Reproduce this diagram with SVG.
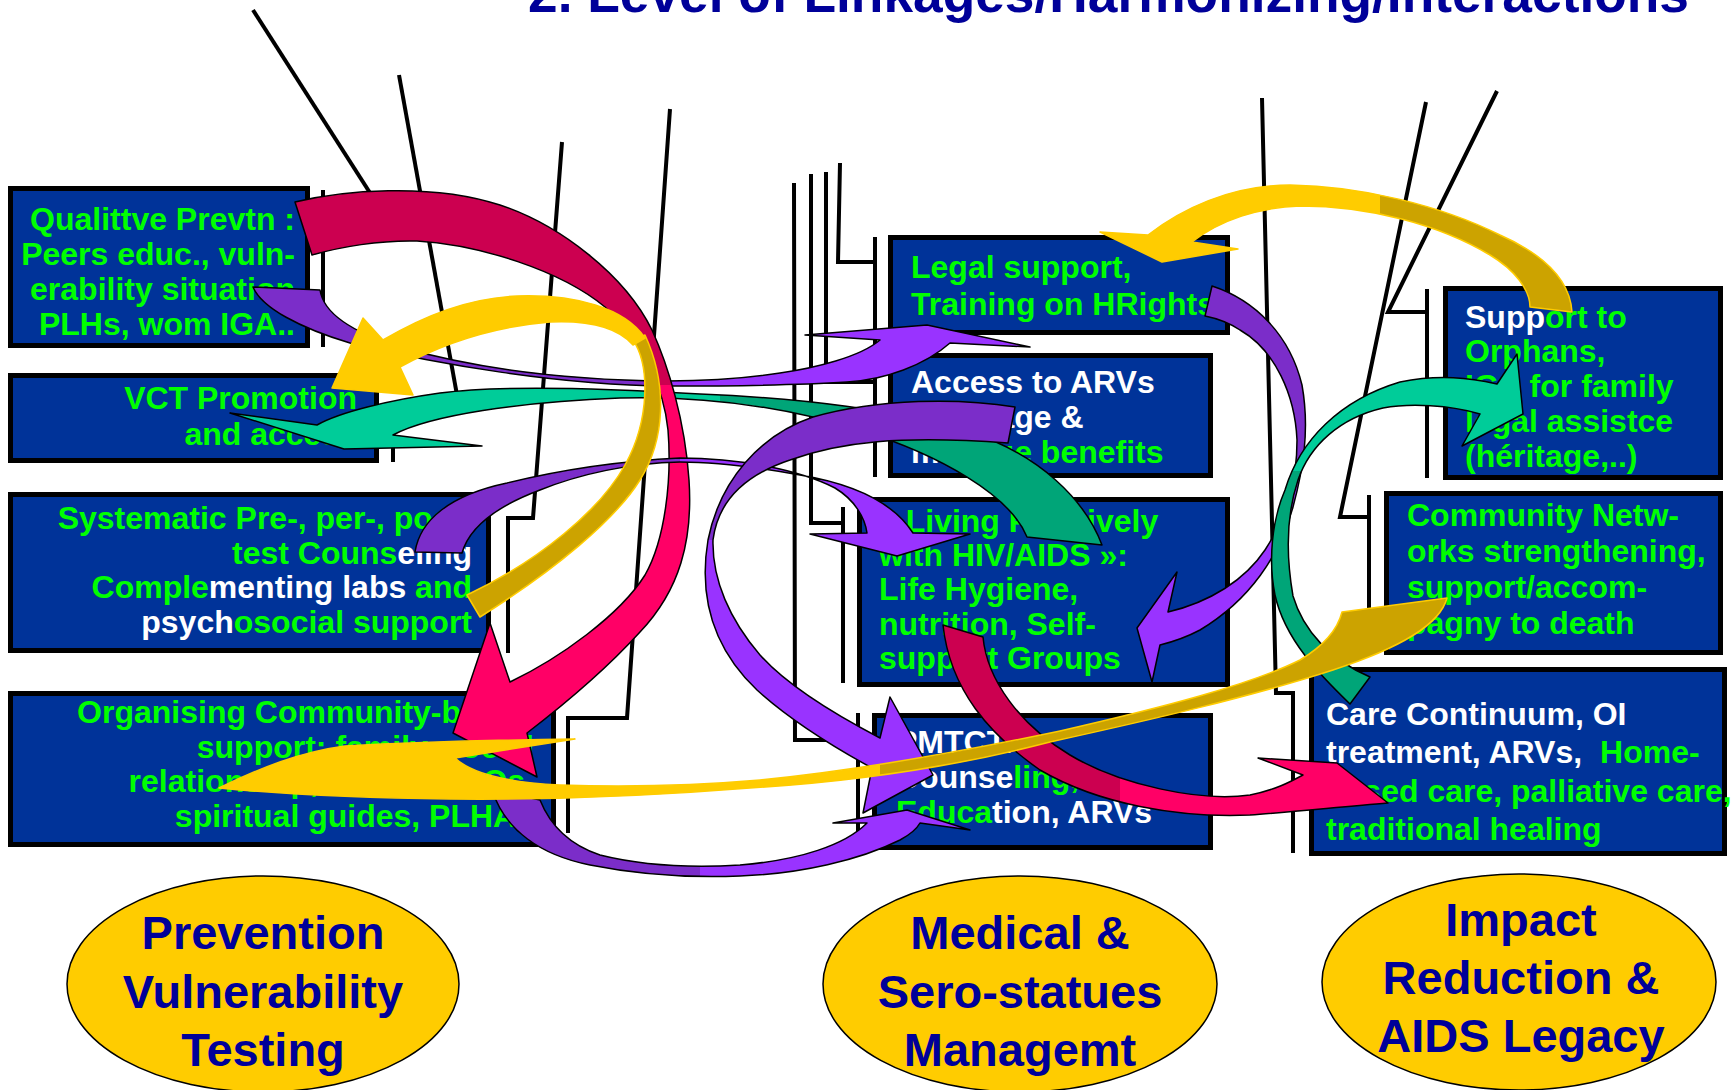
<svg xmlns="http://www.w3.org/2000/svg" width="1736" height="1090" viewBox="0 0 1736 1090">
<defs>
<style>
.box{fill:#003399;stroke:#000;stroke-width:5}
.t{font-family:"Liberation Sans",Arial,sans-serif;font-weight:bold;font-size:32px;fill:#00FF00}
.w{fill:#FFFFFF}
.ln{fill:none;stroke:#000;stroke-width:4}
.ell{fill:#FFCC00;stroke:#000;stroke-width:1.5}
.et{font-family:"Liberation Sans",Arial,sans-serif;font-weight:bold;font-size:47px;fill:#000099;text-anchor:middle}
.arr{stroke:#000;stroke-width:1.5;stroke-linejoin:round}
.yarr{stroke:#FFCC00;stroke-width:1.5;stroke-linejoin:round}
</style>
<linearGradient id="gA1" gradientUnits="userSpaceOnUse" x1="0" y1="188" x2="0" y2="777"><stop offset="0.334" stop-color="#CC0050"/><stop offset="0.334" stop-color="#FF0066"/></linearGradient>
<linearGradient id="gA2" gradientUnits="userSpaceOnUse" x1="253" y1="0" x2="1030" y2="0"><stop offset="0.533" stop-color="#7B2DC9"/><stop offset="0.533" stop-color="#9933FF"/></linearGradient>
<linearGradient id="gA4" gradientUnits="userSpaceOnUse" x1="230" y1="0" x2="1102" y2="0"><stop offset="0.562" stop-color="#00CC99"/><stop offset="0.562" stop-color="#00A578"/></linearGradient>
<linearGradient id="gA5" gradientUnits="userSpaceOnUse" x1="415" y1="0" x2="970" y2="0"><stop offset="0.477" stop-color="#7B2DC9"/><stop offset="0.477" stop-color="#9933FF"/></linearGradient>
<linearGradient id="gA6" gradientUnits="userSpaceOnUse" x1="0" y1="400" x2="0" y2="815"><stop offset="0.337" stop-color="#7B2DC9"/><stop offset="0.337" stop-color="#9933FF"/></linearGradient>
<linearGradient id="gA7" gradientUnits="userSpaceOnUse" x1="490" y1="0" x2="970" y2="0"><stop offset="0.4375" stop-color="#7B2DC9"/><stop offset="0.4375" stop-color="#9933FF"/></linearGradient>
<linearGradient id="gA8" gradientUnits="userSpaceOnUse" x1="0" y1="286" x2="0" y2="682"><stop offset="0.467" stop-color="#7B2DC9"/><stop offset="0.467" stop-color="#9933FF"/></linearGradient>
<linearGradient id="gA9" gradientUnits="userSpaceOnUse" x1="0" y1="354" x2="0" y2="704"><stop offset="0.334" stop-color="#00CC99"/><stop offset="0.334" stop-color="#00A578"/></linearGradient>
<linearGradient id="gA10" gradientUnits="userSpaceOnUse" x1="1100" y1="0" x2="1572" y2="0"><stop offset="0.593" stop-color="#FFCC00"/><stop offset="0.593" stop-color="#CCA300"/></linearGradient>
<linearGradient id="gA11" gradientUnits="userSpaceOnUse" x1="219" y1="0" x2="1447" y2="0"><stop offset="0.538" stop-color="#FFCC00"/><stop offset="0.538" stop-color="#CCA300"/></linearGradient>
<linearGradient id="gA12" gradientUnits="userSpaceOnUse" x1="943" y1="0" x2="1388" y2="0"><stop offset="0.398" stop-color="#CC0050"/><stop offset="0.398" stop-color="#FF0066"/></linearGradient>
</defs>
<rect width="1736" height="1090" fill="#FFFFFF"/>
<text id="title" x="528" y="12" font-family="Liberation Sans, Arial, sans-serif" font-weight="bold" font-size="53.3" fill="#000099">2. Level of Linkages/Harmonizing/Interactions</text>

<g id="connector-lines">
<path class="ln" d="M253,10 L372,196"/>
<path class="ln" d="M323,190 L323,347"/>
<path class="ln" d="M399,75 L457,395"/>
<path class="ln" d="M393,425 L393,462"/>
<path class="ln" d="M562,142 L533,518 L508,518 L508,653"/>
<path class="ln" d="M670,109 L627,718 L568,718 L568,833"/>
<path class="ln" d="M794,183 L795,740 L858,740"/>
<path class="ln" d="M858,713 L858,847"/>
<path class="ln" d="M811,174 L811,523 L843,523"/>
<path class="ln" d="M843,507 L843,683"/>
<path class="ln" d="M826,172 L826,382 L875,382"/>
<path class="ln" d="M840,163 L838,262 L875,262"/>
<path class="ln" d="M875,237 L875,477"/>
<path class="ln" d="M1262,98 L1276,693 L1293,693 L1293,853"/>
<path class="ln" d="M1426,102 L1340,517 L1369,517"/>
<path class="ln" d="M1369,495 L1369,655"/>
<path class="ln" d="M1497,91 L1388,312 L1427,312"/>
<path class="ln" d="M1427,289 L1427,478"/>
</g>

<g id="node-qualitative">
<rect class="box" x="10.5" y="188.5" width="297" height="157"/>
<text class="t" text-anchor="end"><tspan x="295" y="230">Qualittve Prevtn :</tspan><tspan x="295" y="265">Peers educ., vuln-</tspan><tspan x="295" y="300">erability situation</tspan><tspan x="295" y="335">PLHs, wom IGA..</tspan></text>
</g>
<g id="node-vct">
<rect class="box" x="10.5" y="375.5" width="366" height="85"/>
<text class="t" text-anchor="end"><tspan x="357" y="409">VCT Promotion</tspan><tspan x="357" y="445">and access</tspan></text>
</g>
<g id="node-counseling">
<rect class="box" x="10.5" y="494.5" width="478" height="156"/>
<text class="t" text-anchor="end" x="472" y="529">Systematic Pre-, per-, post-</text>
<text class="t" text-anchor="end" x="472" y="564">test Couns<tspan class="w">eling</tspan></text>
<text class="t" text-anchor="end" x="472" y="598">Comple<tspan class="w">menting labs </tspan>and</text>
<text class="t" text-anchor="end" x="472" y="633"><tspan class="w">psych</tspan>osocial support</text>
</g>
<g id="node-community-support">
<rect class="box" x="10.5" y="693.5" width="543" height="151"/>
<text class="t" text-anchor="end"><tspan x="534" y="723">Organising Community-based</tspan><tspan x="534" y="758">support: family, social</tspan><tspan x="534" y="792">relationship, CBOs, NGOs,</tspan><tspan x="534" y="827">spiritual guides, PLHAs</tspan></text>
</g>
<g id="node-legal">
<rect class="box" x="890.5" y="237.5" width="337" height="95"/>
<text class="t"><tspan x="911" y="278">Legal support,</tspan><tspan x="911" y="315">Training on HRights</tspan></text>
</g>
<g id="node-arv">
<rect class="box" x="890.5" y="355.5" width="320" height="120"/>
<text class="t"><tspan class="w" x="911" y="393">Access to ARVs</tspan><tspan class="w" x="911" y="428">coverage &amp;</tspan><tspan x="911" y="463"><tspan class="w">ma</tspan>nage benefits</tspan></text>
</g>
<g id="node-living">
<rect class="box" x="859.5" y="499.5" width="368" height="185"/>
<text class="t"><tspan x="879" y="532">« Living Positively</tspan><tspan x="879" y="566">with HIV/AIDS »:</tspan><tspan x="879" y="600">Life Hygiene,</tspan><tspan x="879" y="635">nutrition, Self-</tspan><tspan x="879" y="669">support Groups</tspan></text>
</g>
<g id="node-pmtct">
<rect class="box" x="874.5" y="715.5" width="336" height="132"/>
<text class="t" x="896" y="753"><tspan class="w">PMTCT:</tspan></text>
<text class="t" x="896" y="788"><tspan class="w">Counse</tspan>ling,</text>
<text class="t" x="896" y="823">Educa<tspan class="w">tion, ARVs</tspan></text>
</g>
<g id="node-orphans">
<rect class="box" x="1445.5" y="288.5" width="275" height="189"/>
<text class="t"><tspan x="1465" y="328"><tspan class="w">Supp</tspan>ort to</tspan><tspan x="1465" y="362">Orphans,</tspan><tspan x="1465" y="397">IGA for family</tspan><tspan x="1465" y="432">legal assistce</tspan><tspan x="1465" y="467">(héritage,..)</tspan></text>
</g>
<g id="node-networks">
<rect class="box" x="1386.5" y="493.5" width="334" height="159"/>
<text class="t"><tspan x="1407" y="526">Community Netw-</tspan><tspan x="1407" y="562">orks strengthening,</tspan><tspan x="1407" y="598">support/accom-</tspan><tspan x="1407" y="634">pagny to death</tspan></text>
</g>
<g id="node-care">
<rect class="box" x="1311.5" y="669.5" width="413" height="184"/>
<text class="t"><tspan class="w" x="1326" y="725">Care Continuum, OI</tspan><tspan x="1326" y="763"><tspan class="w">treatment, ARVs,</tspan><tspan dx="18">Home-</tspan></tspan><tspan x="1326" y="802">based care, palliative care,</tspan><tspan x="1326" y="840">traditional healing</tspan></text>
</g>

<g id="connectors">
<path id="a4" class="arr" fill="url(#gA4)" d="M1102,545 C1085,500 1040,455 970,432 C900,410 800,398 700,394 C600,388 500,385 440,393 C390,400 340,412 317,425 L230,413 L344,449 L482,446 L393,435 C430,415 520,402 620,398 C700,396 780,405 860,430 C940,455 1010,495 1027,537 Z"/>
<path id="a2" class="arr" fill="url(#gA2)" d="M253,287 L320,290 C323,310 345,330 400,347 C470,367 560,380 667,381 C720,381 755,377 780,373 C815,368 860,357 880,340 L805,335 L927,325 L1030,347 L950,343 C925,365 885,380 847,382 C800,385 740,386 667,386 C560,385 440,365 350,343 C300,328 262,308 253,287 Z"/>
<path id="a1" class="arr" fill="url(#gA1)" d="M295,202 C340,191 430,182 500,205 C560,225 625,275 652,330 C668,365 685,420 689,480 C693,540 680,590 640,632 C610,665 570,700 527,733 L537,777 L453,733 L490,623 L510,682 C560,658 620,615 645,575 C665,540 672,480 668,430 C664,390 645,345 605,307 C560,270 480,245 417,241 C380,240 340,247 312,255 Z"/>
<path id="a5" class="arr" fill="url(#gA5)" d="M415,552 C420,520 450,495 507,483 C560,470 620,461 680,458 C740,458 800,470 835,488 C855,500 865,518 867,533 L810,534 L897,556 L970,534 L913,533 C895,505 860,485 800,475 C750,466 710,462 680,462 C630,463 580,474 540,490 C500,505 470,525 462,553 Z"/>
<path id="a6" class="arr" fill="url(#gA6)" d="M1015,407 C960,398 880,398 813,417 C760,435 720,480 708,540 C698,600 715,650 757,690 C790,720 830,745 872,768 L863,813 L933,775 L890,697 L880,738 C830,712 785,683 760,655 C730,620 712,580 713,540 C718,500 745,475 790,460 C840,442 900,435 1008,443 Z"/>
<path id="a7" class="arr" fill="url(#gA7)" d="M492,790 C505,830 540,855 590,865 C640,875 690,878 740,876 C800,874 860,860 900,840 Q915,832 920,823 L970,830 L907,810 L833,823 L867,823 C845,845 800,860 740,865 C690,868 640,865 600,855 C570,845 550,825 540,800 Z"/>
<path id="a3b" class="yarr" fill="#CCA300" d="M633,340 C650,365 650,420 625,465 C600,510 540,560 467,595 L480,617 C555,570 615,520 640,480 C665,440 668,385 645,335 Z"/>
<path id="a3" class="yarr" fill="#FFCC00" d="M645,338 C625,308 575,294 517,296 C465,298 420,318 383,340 L363,318 L332,388 L413,395 L400,367 C440,345 490,327 550,322 C595,320 620,330 633,345 Z"/>
<path id="a12" class="arr" fill="url(#gA12)" d="M943,625 L983,637 C987,680 1020,725 1070,755 C1120,785 1200,802 1250,795 C1275,790 1290,782 1303,775 L1258,758 L1337,763 L1388,803 C1340,807 1290,812 1250,815 C1180,818 1100,805 1040,770 C990,735 950,690 943,625 Z"/>
<path id="a8" class="arr" fill="url(#gA8)" d="M1212,286 C1255,300 1290,335 1302,385 C1310,430 1303,470 1293,507 C1280,555 1250,600 1200,630 C1185,638 1172,642 1160,645 L1152,682 L1137,628 L1177,572 L1168,612 C1210,602 1245,580 1265,550 C1288,515 1297,480 1297,440 C1295,395 1275,350 1240,330 C1228,322 1215,318 1205,316 Z"/>
<path id="a9" class="arr" fill="url(#gA9)" d="M1350,704 C1320,675 1285,640 1275,595 C1268,560 1272,520 1285,490 C1300,440 1340,400 1400,382 C1440,374 1470,378 1497,384 L1517,354 L1523,414 L1462,446 L1480,414 C1450,405 1410,403 1383,408 C1340,418 1310,445 1298,480 C1288,510 1285,550 1293,596 C1303,630 1330,660 1370,677 Z"/>
<path id="a11" class="yarr" fill="url(#gA11)" d="M1342,612 L1447,598 C1440,625 1400,648 1333,670 C1250,697 1150,720 1050,742 C950,768 850,782 750,788 C650,796 550,800 450,799 C370,798 290,795 219,788 C260,768 300,752 345,746 C420,742 500,740 575,739 L455,758 C470,772 500,782 560,785 C620,787 690,786 760,780 C860,770 960,752 1060,731 C1160,708 1250,685 1300,660 C1325,645 1338,628 1342,612 Z"/>
<path id="a10" class="yarr" fill="url(#gA10)" d="M1572,312 C1570,280 1545,255 1500,235 C1440,205 1360,186 1290,185 C1230,185 1180,210 1148,235 L1100,232 L1162,262 L1238,249 L1192,242 C1220,220 1260,207 1300,206 C1370,206 1440,225 1490,255 C1515,270 1530,290 1530,307 Z"/>
</g>

<g id="node-prevention">
<ellipse class="ell" cx="263" cy="984" rx="196" ry="108"/>
<text class="et"><tspan x="263" y="949">Prevention</tspan><tspan x="263" y="1008">Vulnerability</tspan><tspan x="263" y="1066">Testing</tspan></text>
</g>
<g id="node-medical">
<ellipse class="ell" cx="1020" cy="984" rx="197" ry="108"/>
<text class="et"><tspan x="1020" y="949">Medical &amp;</tspan><tspan x="1020" y="1008">Sero-statues</tspan><tspan x="1020" y="1066">Managemt</tspan></text>
</g>
<g id="node-impact">
<ellipse class="ell" cx="1519" cy="982" rx="197" ry="108"/>
<text class="et"><tspan x="1521" y="936">Impact</tspan><tspan x="1521" y="994">Reduction &amp;</tspan><tspan x="1521" y="1052">AIDS Legacy</tspan></text>
</g>
</svg>
